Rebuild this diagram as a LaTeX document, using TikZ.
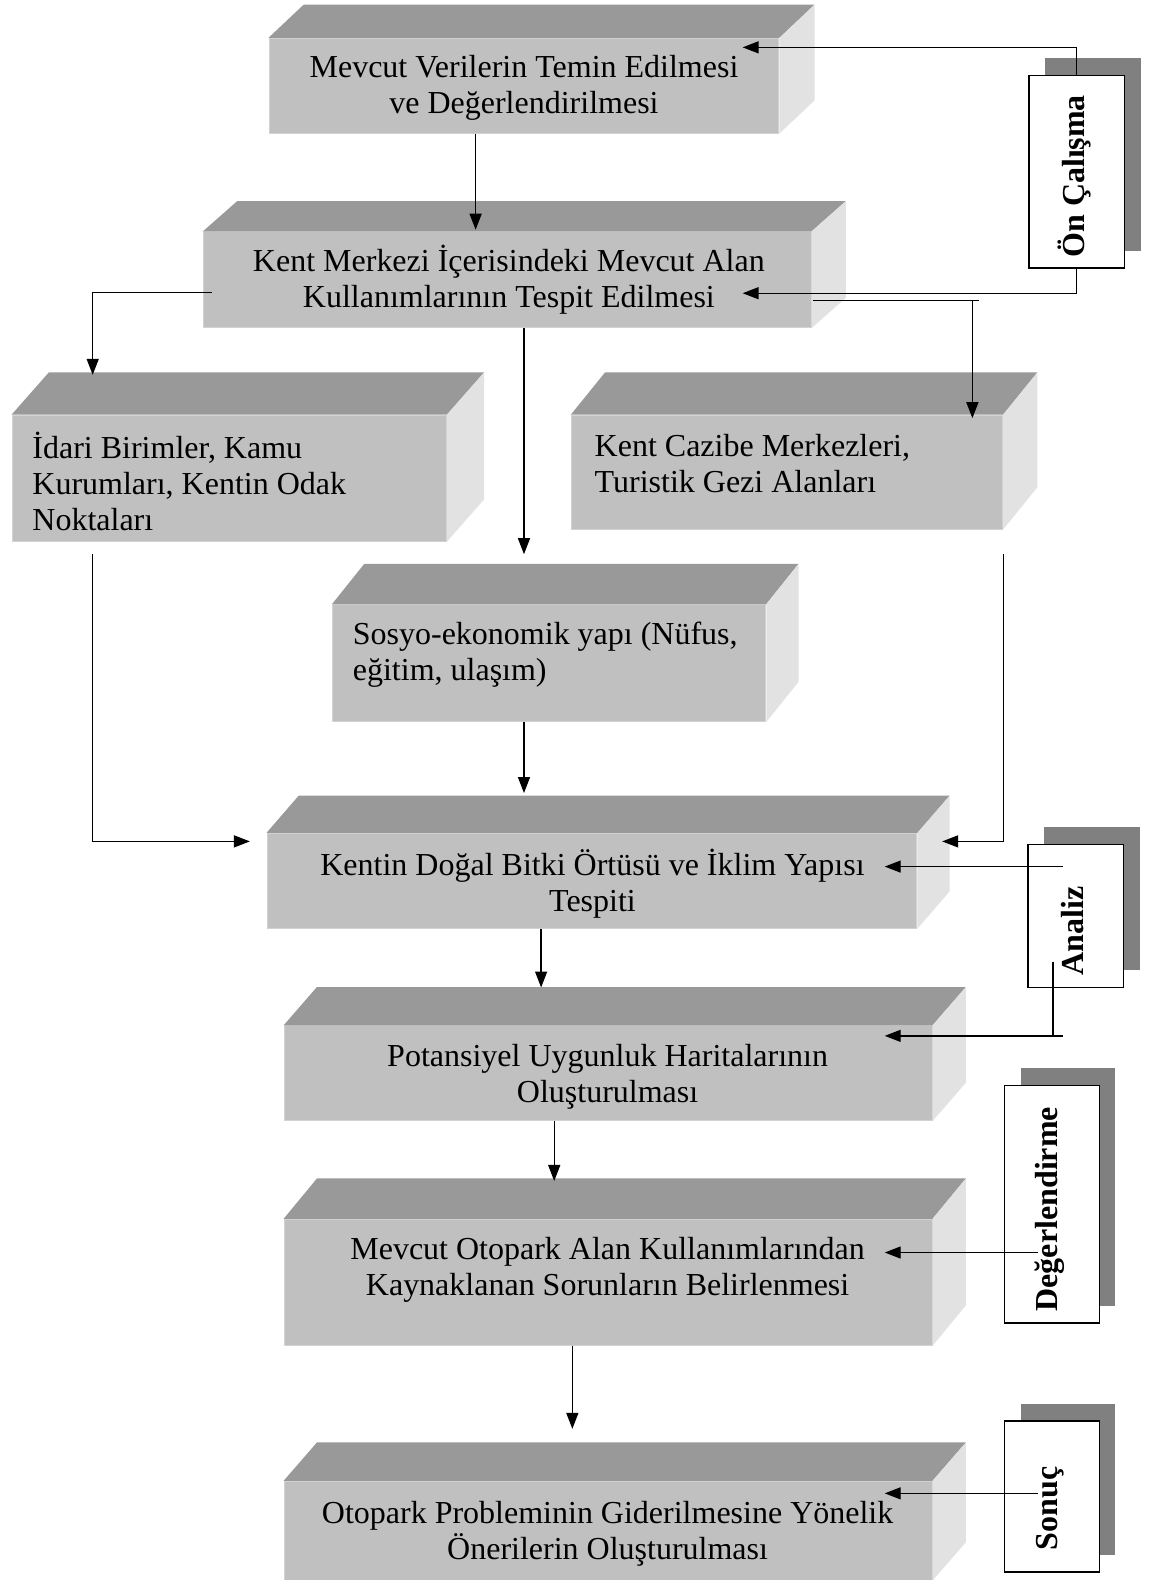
\documentclass[tikz,border=0pt]{standalone}
\usepackage{fontspec}
\setmainfont{Liberation Serif}
\usetikzlibrary{arrows.meta,fit,calc}
\definecolor{frontc}{HTML}{C0C0C0}
\definecolor{frontedge}{HTML}{D2D2D2}
\definecolor{topc}{HTML}{999999}
\definecolor{sidec}{HTML}{E2E2E2}
\definecolor{shadc}{HTML}{808080}
\tikzset{
  frontface/.style={fill=frontc, draw=frontedge, line width=1pt, inner sep=0pt},
  labelbox/.style={fill=white, draw=black, line width=1.4pt, inner sep=0pt},
  boxtext/.style={font=\fontsize{32}{36}\selectfont, inner sep=0pt},
  labeltext/.style={font=\fontsize{32}{36}\selectfont\bfseries, inner sep=0pt, rotate=90},
  arr/.style={line width=1.4pt, -{Triangle[length=16pt,width=12pt]}},
  plain/.style={line width=1.4pt}
}
\newcommand\mycube[7]{%
  \node[frontface, fit={(#2,#3) (#4,#5)}] (#1) {};
  \fill[topc] (#1.north west) -- ++(#6,-#7) -- ($(#1.north east)+(#6,-#7)$) -- (#1.north east) -- cycle;
  \fill[sidec] (#1.north east) -- ++(#6,-#7) -- ($(#1.south east)+(#6,-#7)$) -- (#1.south east) -- cycle;
}
\newcommand\mylabel[5]{%
  \fill[shadc] (#2+16,#3-17) rectangle (#4+16,#5-17);
  \node[labelbox, fit={(#2,#3) (#4,#5)}] (#1) {};
}
\begin{document}
\begin{tikzpicture}[x=1.0078pt, y=-1.0078pt]
\useasboundingbox[fill=white] (0,0) rectangle (1148,1568);

% boxes
\mycube{b1}{267}{38}{773}{132}{35}{33}
\mycube{b2}{202}{230}{805}{325}{34}{30}
\mycube{b3}{12}{412}{443}{537}{37}{42}
\mycube{b4}{567}{412}{995}{525}{34}{42}
\mycube{b5}{330}{600}{760}{716}{32}{40}
\mycube{b6}{265}{827}{910}{921}{32}{37}
\mycube{b7}{282}{1018}{925}{1112}{33}{38}
\mycube{b8}{282}{1210}{925}{1335}{33}{40}
\mycube{b9}{282}{1470}{925}{1568}{33}{38}

% box texts
\node[boxtext, align=center] (x1) at (520,87) {Mevcut Verilerin Temin Edilmesi\\ve Değerlendirilmesi};
\node[boxtext, align=center] (x2) at (505,278) {Kent Merkezi İçerisindeki Mevcut Alan\\Kullanımlarının Tespit Edilmesi};
\node[boxtext, align=left, anchor=west] (x3) at (32,478) {İdari Birimler, Kamu\\Kurumları, Kentin Odak\\Noktaları};
\node[boxtext, align=left, anchor=west] (x4) at (590,460) {Kent Cazibe Merkezleri,\\Turistik Gezi Alanları};
\node[boxtext, align=left, anchor=west] (x5) at (350,650) {Sosyo-ekonomik yapı (Nüfus,\\eğitim, ulaşım)};
\node[boxtext, align=center] (x6) at (588,877) {Kentin Doğal Bitki Örtüsü ve İklim Yapısı\\Tespiti};
\node[boxtext, align=center] (x7) at (603,1069) {Potansiyel Uygunluk Haritalarının\\Oluşturulması};
\node[boxtext, align=center] (x8) at (603,1260) {Mevcut Otopark Alan Kullanımlarından\\Kaynaklanan Sorunların Belirlenmesi};
\node[boxtext, align=center] (x9) at (603,1522) {Otopark Probleminin Giderilmesine Yönelik\\Önerilerin Oluşturulması};

% side labels
\mylabel{l1}{1021}{75}{1116}{266}
\mylabel{l2}{1020}{838}{1115}{980}
\mylabel{l3}{997}{1077}{1091}{1313}
\mylabel{l4}{997}{1410}{1091}{1560}
\node[labeltext] (y1) at (1066,175) {Ön Çalışma};
\node[labeltext] (y2) at (1064,924) {Analiz};
\node[labeltext] (y3) at (1042,1200) {Değerlendirme};
\node[labeltext] (y4) at (1042,1497) {Sonuç};

% connector coordinates
\coordinate (t1) at (737,47);
\coordinate (t2) at (737,291);
\coordinate (t3) at (472,228);
\coordinate (s4) at (210,290);
\coordinate (t4) at (92,372);
\coordinate (t5) at (520,550);
\coordinate (s6) at (807,298);
\coordinate (e6) at (972,298);
\coordinate (t6) at (965,415);
\coordinate (s7) at (92,550);
\coordinate (t7) at (248,835);
\coordinate (s8) at (996,550);
\coordinate (t8) at (935,835);
\coordinate (t9) at (520,787);
\coordinate (s10) at (1055,860);
\coordinate (t10) at (878,860);
\coordinate (s11) at (1045,955);
\coordinate (e11) at (1055,1028);
\coordinate (t11) at (878,1028);
\coordinate (t12) at (537,980);
\coordinate (t13) at (550,1172);
\coordinate (s14) at (1030,1243);
\coordinate (t14) at (878,1243);
\coordinate (t15) at (568,1418);
\coordinate (s16) at (1030,1482);
\coordinate (t16) at (878,1482);

% connectors
\draw[arr] (l1.north) |- (t1);
\draw[arr] (l1.south) |- (t2);
\draw[arr] (b1.south -| t3) -- (t3);
\draw[arr] (s4) -| (t4);
\draw[arr] (b2.south -| t5) -- (t5);
\draw[plain] (s6) -- (e6);
\draw[arr] (s6 -| t6) -- (t6);
\draw[arr] (s7) |- (t7);
\draw[arr] (s8) |- (t8);
\draw[arr] (b5.south -| t9) -- (t9);
\draw[arr] (s10) -- (t10);
\draw[arr] (s11) |- (t11);
\draw[plain] (s11 |- e11) -- (e11);
\draw[arr] (b6.south -| t12) -- (t12);
\draw[arr] (b7.south -| t13) -- (t13);
\draw[arr] (s14) -- (t14);
\draw[arr] (b8.south -| t15) -- (t15);
\draw[arr] (s16) -- (t16);
\end{tikzpicture}
\end{document}
